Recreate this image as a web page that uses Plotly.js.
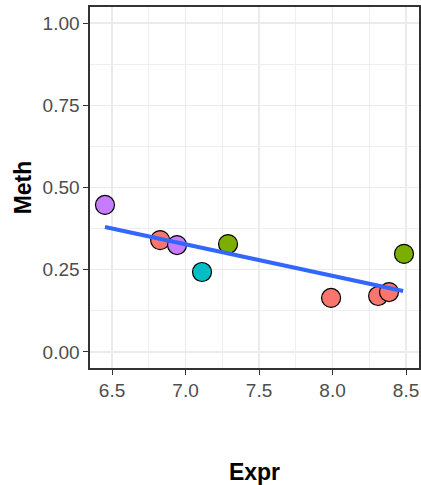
<!DOCTYPE html>
<html>
<head>
<meta charset="utf-8">
<script src="https://cdn.plot.ly/plotly-3.0.1.min.js"></script>
<style>html,body{margin:0;padding:0;background:#fff;}#chart{width:421px;height:485px;}</style>
</head>
<body>
<div id="chart"></div>
<script>
// Data
var expr = [6.452, 6.827, 6.942, 7.112, 7.289, 7.990, 8.310, 8.384, 8.486];
var meth = [0.447, 0.340, 0.325, 0.243, 0.328, 0.164, 0.170, 0.182, 0.298];
var group = ["D", "A", "D", "C", "B", "A", "A", "A", "B"];
var groupColors = {A: "#F8766D", B: "#7CAE00", C: "#00BFC4", D: "#C77CFF"};
// Fitted regression line endpoints
var fitX = [6.452, 8.480];
var fitY = [0.380, 0.185];
var xTicks = [6.5, 7.0, 7.5, 8.0, 8.5];
var xTickText = ["6.5", "7.0", "7.5", "8.0", "8.5"];
var xMinor = [6.75, 7.25, 7.75, 8.25];
var yTicks = [0, 0.25, 0.5, 0.75, 1.0];
var yTickText = ["0.00", "0.25", "0.50", "0.75", "1.00"];
var yMinor = [0.125, 0.375, 0.625, 0.875];

var points = {
  x: expr, y: meth, mode: "markers", type: "scatter",
  marker: {size: 19, color: group.map(function(g){return groupColors[g];}),
           line: {color: "#000", width: 1.2}},
  hoverinfo: "x+y", showlegend: false
};
var fit = {
  x: fitX, y: fitY, mode: "lines", type: "scatter",
  line: {color: "#3366FF", width: 4}, showlegend: false
};

var font = "Liberation Sans, Arial, Helvetica, sans-serif";
var layout = {
  width: 421, height: 485,
  margin: {l: 90, r: 2, t: 7, b: 117},
  paper_bgcolor: "#fff", plot_bgcolor: "#fff",
  showlegend: false,
  font: {family: font},
  xaxis: {
    range: [6.35, 8.588], tickvals: xTicks, ticktext: xTickText,
    showgrid: true, gridcolor: "#EBEBEB", gridwidth: 1.5,
    minor: {tickvals: xMinor, showgrid: true, gridcolor: "#EBEBEB", gridwidth: 0.8, ticks: ""},
    zeroline: false, showline: true, mirror: true, linecolor: "#333333", linewidth: 1.6,
    ticks: "outside", ticklen: 5, tickwidth: 1.1, tickcolor: "#333333",
    tickfont: {size: 19, color: "#4D4D4D", family: font},
    title: {text: "<b>Expr</b>", font: {size: 23, color: "#000", family: font}, standoff: 66}
  },
  yaxis: {
    range: [-0.049, 1.049], tickvals: yTicks, ticktext: yTickText,
    showgrid: true, gridcolor: "#EBEBEB", gridwidth: 1.5,
    minor: {tickvals: yMinor, showgrid: true, gridcolor: "#EBEBEB", gridwidth: 0.8, ticks: ""},
    zeroline: false, showline: true, mirror: true, linecolor: "#333333", linewidth: 1.6,
    ticks: "outside", ticklen: 5, tickwidth: 1.1, tickcolor: "#333333",
    tickfont: {size: 19, color: "#4D4D4D", family: font},
    title: {text: "<b>Meth</b>", font: {size: 23, color: "#000", family: font}, standoff: 4}
  }
};
Plotly.newPlot("chart", [points, fit], layout, {displayModeBar: false, staticPlot: true});
</script>
</body>
</html>
